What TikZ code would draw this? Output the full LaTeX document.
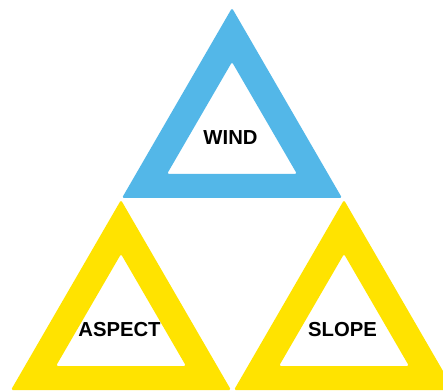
\documentclass[tikz,border=0pt]{standalone}
\usepackage{fontspec}
\setmainfont{Liberation Sans}
\usepackage{tikz}
\usetikzlibrary{positioning}
\definecolor{windblue}{HTML}{53B7E8}
\definecolor{factoryellow}{HTML}{FFE300}

\begin{document}
\begin{tikzpicture}[x=0.75pt,y=-0.75pt,
    ringlabel/.style={font=\bfseries\fontsize{15.2}{18}\selectfont,text=black,inner sep=0pt}]
  \clip (0,0) rectangle (443,392);
  \fill[white] (0,0) rectangle (443,392);
  \foreach \cx/\cy/\col/\lbl/\nm in {232/8/windblue/WIND/wind,121/200/factoryellow/ASPECT/aspect,344/200/factoryellow/SLOPE/slope}{
    \fill[\col,even odd rule,rounded corners=1.2]
      (\cx,\cy) -- ++(110,190) -- ++(-220,0) -- cycle
      (\cx,\cy+54) -- ++(65,112) -- ++(-130,0) -- cycle;
    \node[ringlabel] (\nm) at (\cx-1.5,\cy+130) {\lbl};
  }
\end{tikzpicture}
\end{document}
